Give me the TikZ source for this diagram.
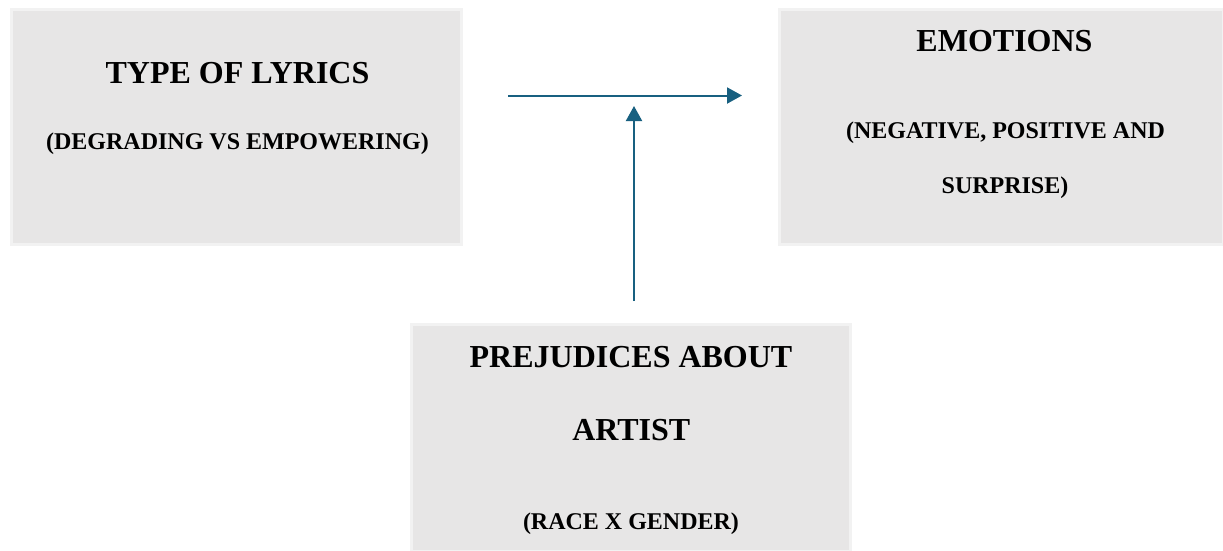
\documentclass[tikz,border=0pt]{standalone}
\usepackage{fontspec}
\setmainfont{Liberation Serif}
\usetikzlibrary{arrows.meta}
\definecolor{boxfill}{RGB}{231,230,230}
\definecolor{boxedge}{RGB}{242,242,242}
\definecolor{arr}{RGB}{24,96,128}
\tikzset{
  box/.style={fill=boxfill,draw=boxedge,line width=3pt},
  big/.style={font=\fontsize{32}{38}\selectfont\bfseries,inner sep=0pt,anchor=base},
  small/.style={font=\fontsize{24}{29}\selectfont\bfseries,inner sep=0pt,anchor=base},
  conn/.style={draw=arr,line width=2pt,-{Triangle[length=15pt,width=16pt]}}
}
\begin{document}
\begin{tikzpicture}[x=1pt,y=-1pt]
\useasboundingbox (0,0) rectangle (1223,550);
\fill[white] (0,0) rectangle (1223,550);
% boxes
\draw[box] (11.5,9.5) rectangle (461.5,244.5);
\draw[box] (779.5,9.5) rectangle (1223,244.5);
\draw[box] (411.5,324.5) rectangle (850.5,551);
% texts
\node[big] (t1) at (237.5,83.3) {TYPE OF LYRICS};
\node[small] (t1b) at (237.5,149) {(DEGRADING VS EMPOWERING)};
\node[big] (t2) at (1004.5,51.7) {EMOTIONS};
\node[small] (t2b) at (1005.5,138.3) {(NEGATIVE, POSITIVE AND};
\node[small] (t2c) at (1005,193.3) {SURPRISE)};
\node[big] (t3) at (631,367.3) {PREJUDICES ABOUT};
\node[big] (t3b) at (631.3,440.7) {ARTIST};
\node[small] (t3c) at (631,529) {(RACE X GENDER)};
% connectors
\coordinate (h1) at (508,95.5);
\coordinate (h2) at (742,95.5);
\coordinate (v1) at (634,301);
\coordinate (v2) at (634,106);
\draw[conn] (h1) -- (h2);
\draw[conn] (v1) -- (v2);
\end{tikzpicture}
\end{document}
